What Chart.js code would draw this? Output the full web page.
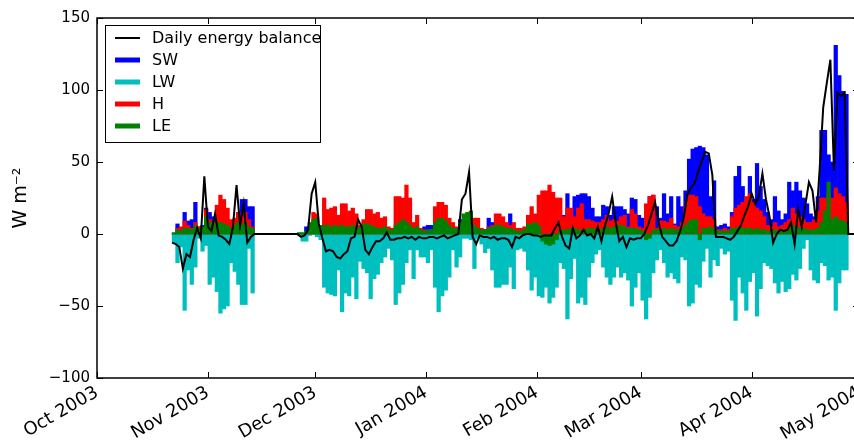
<!DOCTYPE html>
<html>
<head>
<meta charset="utf-8">
<script src="https://cdn.jsdelivr.net/npm/chart.js@4.4.1/dist/chart.umd.min.js"></script>
<style>
  html, body { margin: 0; padding: 0; background: #fff; overflow: hidden; }
  canvas { display: block; }
</style>
</head>
<body>
<canvas id="balanceChart" width="862" height="448"></canvas>
<script>
// x is counted in days from 1 Oct 2003; the series start on 22 Oct 2003 (day 21)
const firstDay = 21;
const monthStarts = [0, 31, 61, 92, 123, 152, 183, 213];
const monthLabels = ['Oct 2003', 'Nov 2003', 'Dec 2003', 'Jan 2004', 'Feb 2004', 'Mar 2004', 'Apr 2004', 'May 2004'];
const yTicks = [-100, -50, 0, 50, 100, 150];
const seriesNames = ['Daily energy balance', 'SW', 'LW', 'H', 'LE'];

const gap = n => Array(n).fill(null);

// daily means, W m-2 (null = no station data)
const sw = [
  0, 7, 4, 15, 9, 10, 22, 5, 6, 18,
  15, 12, 10, 10, 8, 6, 5, 10, 15, 24,
  24, 19, 19,
  ...gap(12),
  0, 0, 5, 3, 4,
  4, 0, 0, 0, 0, 0, 0, 0, 0, 0,
  0, 0, 0, 0, 0, 0, 0, 0, 0, 0,
  0, 0, 0, 0, 0, 0, 0, 0, 2, 3,
  5, 6, 6, 3, 2, 2, 2, 3, 2, 4,
  10, 8, 6, 5, 3, 2, 2, 3, 11, 8,
  4, 3, 2, 3, 14, 4, 3, 3, 3, 3,
  3, 3, 3, 3, 3, 3, 3, 3, 3, 13,
  28, 12, 26, 27, 28, 28, 26, 18, 12, 12,
  20, 19, 13, 19, 19, 19, 17, 14, 25, 24,
  13, 11, 20, 26, 27, 19, 11, 28, 14, 26,
  7, 26, 19, 30, 52, 59, 60, 61, 60, 55,
  26, 37, 5, 6, 7, 5, 15, 40, 47, 33,
  19, 40, 24, 49, 33, 24, 15, 10, 26, 16,
  10, 14, 36, 30, 36, 30, 25, 21, 14, 12,
  26, 72, 72, 55, 50, 131, 110, 99, 97,
  ...gap(3)
];

const lw = [
  -6, -20, -9, -53, -25, -35, -23, -3, -12, -8,
  -35, -30, -40, -55, -52, -50, -20, -26, -35, -49,
  -49, -10, -41,
  ...gap(12),
  -1, -5, -5, -1, 0,
  -2, -4, -37, -41, -42, -43, -25, -54, -41, -43,
  -30, -45, -19, -24, -27, -45, -31, -28, -20, -16,
  -10, -18, -49, -41, -35, -20, -11, -31, -11, -16,
  -16, -20, -11, -37, -54, -43, -39, -30, -11, -23,
  -16, -3, -3, -4, -24, -3, -7, -13, -10, -25,
  -37, -37, -35, -35, -23, -38, -11, -10, -12, -25,
  -39, -30, -43, -44, -37, -48, -44, -37, -20, -24,
  -59, -31, -17, -48, -44, -49, -30, -20, -14, -11,
  -23, -30, -35, -30, -23, -30, -27, -32, -50, -37,
  -27, -46, -59, -44, -27, -18, -11, -20, -30, -27,
  -31, -34, -16, -18, -50, -48, -35, -37, -19, -10,
  -30, -18, -22, -10, -14, -12, -46, -60, -30, -41,
  -53, -33, -27, -57, -38, -20, -22, -24, -34, -41,
  -33, -40, -38, -28, -32, -24, -10, -4, -25, -32,
  -34, -20, -22, -32, -30, -53, -34, -25, -25,
  ...gap(3)
];

const sensible = [
  0, 4, 5, 9, 6, 4, 8, 5, 4, 17,
  10, 8, 20, 27, 24, 18, 10, 11, 15, 12,
  15, 10, 5,
  ...gap(12),
  0, 0, 1, 4, 15,
  14, 6, 25, 17, 18, 19, 13, 21, 21, 16,
  18, 14, 6, 10, 17, 17, 14, 15, 11, 12,
  5, 4, 26, 26, 25, 34, 25, 8, 13, 4,
  3, 2, 3, 19, 22, 22, 20, 11, 8, 5,
  8, 10, 12, 10, 11, 11, 4, 3, 5, 6,
  14, 14, 12, 8, 6, 8, 4, 4, 5, 13,
  19, 14, 27, 30, 30, 34, 29, 25, 25, 12,
  18, 18, 12, 18, 21, 10, 10, 9, 8, 8,
  10, 13, 9, 10, 9, 12, 13, 5, 17, 14,
  5, 4, 21, 26, 27, 4, 9, 9, 8, 11,
  6, 5, 8, 19, 27, 27, 26, 19, 14, 12,
  12, 10, 3, 3, 4, 3, 12, 18, 20, 22,
  26, 28, 22, 18, 16, 12, 6, 5, 8, 5,
  6, 8, 10, 18, 14, 12, 10, 8, 8, 10,
  16, 25, 25, 28, 25, 32, 28, 26, 22,
  ...gap(3)
];

const latent = [
  1, 3, 2, 4, 4, 3, 6, 4, 5, 12,
  8, 7, 8, 8, 7, 6, 4, 6, 8, 7,
  8, 5, 4,
  ...gap(12),
  1, 1, 2, 8, 10,
  11, 6, 6, 6, 5, 6, 5, 6, 5, 5,
  6, 4, 5, 7, 7, 6, 5, 4, 4, 5,
  3, 3, 6, 8, 10, 8, 6, 4, 5, 3,
  2, 3, 3, 8, 11, 11, 9, 6, 4, 4,
  8, 14, 15, 16, 6, 4, 3, 3, 4, 5,
  6, 6, 5, 4, 4, 3, 2, 2, 3, 7,
  7, 8, 6, -5, -7, -8, -7, -4, 2, 3,
  3, 4, 4, 3, 3, 3, 4, 4, 3, 3,
  4, 5, 4, 5, 6, 6, 5, 4, 4, 4,
  3, 2, -4, -3, 3, 3, 3, 4, 3, 4,
  3, 3, 4, 6, 9, 10, 10, -4, 4, 4,
  5, 4, 2, 2, 2, 2, 4, 4, 5, 4,
  4, 4, 3, 4, 3, 3, 2, 2, 3, 2,
  3, 3, 4, 6, 5, 4, 4, 3, 3, 3,
  4, 8, 16, 36, 10, 12, 10, 9, 8,
  ...gap(3)
];

const balance = [
  -6, -7, -9, -24, -14, -16, -4, 4, -3, 40,
  5, 2, 14, -1, -2, -4, -7, 5, 34, 6,
  21, -6, -2,
  0, 0, 0, 0, 0, 0, 0, 0, 0, 0, 0, 0,
  0, -2, -1, 3, 28,
  36, 7, -3, -12, -11, -12, -16, -17, -14, -12,
  -3, -2, 10, 5, -11, -14, -9, -5, -5, -3,
  1, -4, -4, -3, -3, -2, -3, -2, -4, -2,
  -3, -3, -2, -2, -3, -2, -1, -3, -2, -1,
  0, 24, 28, 43, -2, -7, -1, -2, -2, -3,
  -2, -4, -3, -3, -4, -9, -2, -3, -1, 0,
  0, -1, -1, -2, -1, -1, -1, 4, 8, -2,
  -8, -10, 4, -3, -1, 3, -1, 0, -3, 5,
  -5, 6, 14, 26, 8, -5, -2, -9, -3, -4,
  -3, -3, 0, 6, 14, 22, 8, -2, -5, -8,
  -8, -5, 2, 11, 27, 32, 35, 43, 50, 57,
  56, 41, -2, -2, -2, -3, -4, -2, 2, 6,
  13, 19, 28, 21, 26, 42, 24, 12, -6, 0,
  3, 2, 3, 8, -7, 17, 5, 20, 36, 30,
  8, 45, 88, 105, 121, 44, 98, 96, 98,
  0, 0, 0
];

const FONT = "'DejaVu Sans', sans-serif";

// bars cover their whole day, the balance line is plotted at the start of each day
const dayBars = vals => vals.map((v, i) => ({ x: firstDay + i + 0.5, y: v }));
const dayLine = vals => vals.map((v, i) => ({ x: firstDay + i, y: v }));

const barStyle = { type: 'bar', grouped: false, barPercentage: 1, categoryPercentage: 1, borderWidth: 0 };

// frame with inward ticks and a boxed legend in the upper left corner
const axesFrame = {
  id: 'axesFrame',
  afterDatasetsDraw(chart) {
    const { ctx, chartArea: a, scales: { x, y } } = chart;
    ctx.save();
    ctx.strokeStyle = '#000';
    ctx.lineWidth = 1;
    ctx.beginPath();
    monthStarts.forEach(v => {
      const px = Math.round(x.getPixelForValue(v)) + 0.5;
      ctx.moveTo(px, a.bottom); ctx.lineTo(px, a.bottom - 6);
      ctx.moveTo(px, a.top); ctx.lineTo(px, a.top + 6);
    });
    yTicks.forEach(v => {
      const py = Math.round(y.getPixelForValue(v)) + 0.5;
      ctx.moveTo(a.left, py); ctx.lineTo(a.left + 6, py);
      ctx.moveTo(a.right, py); ctx.lineTo(a.right - 6, py);
    });
    ctx.stroke();
    ctx.lineWidth = 1.5;
    ctx.strokeRect(a.left, a.top, a.right - a.left, a.bottom - a.top);

    const bx = a.left + 8, by = a.top + 7, bw = 215, bh = 117;
    ctx.fillStyle = '#fff';
    ctx.fillRect(bx, by, bw, bh);
    ctx.lineWidth = 1;
    ctx.strokeRect(bx + 0.5, by + 0.5, bw, bh);
    ctx.font = '16px ' + FONT;
    ctx.textBaseline = 'middle';
    chart.data.datasets.forEach((ds, i) => {
      const ly = by + 13 + i * 22;
      ctx.strokeStyle = ds.type === 'line' ? ds.borderColor : ds.backgroundColor;
      ctx.lineWidth = ds.type === 'line' ? 2 : 5;
      ctx.beginPath();
      ctx.moveTo(bx + 10, ly);
      ctx.lineTo(bx + 35, ly);
      ctx.stroke();
      ctx.fillStyle = '#000';
      ctx.fillText(ds.label, bx + 47, ly + 1);
    });
    ctx.restore();
  }
};

new Chart(document.getElementById('balanceChart'), {
  data: {
    datasets: [
      { type: 'line', label: seriesNames[0], data: dayLine(balance), borderColor: '#000', borderWidth: 2,
        pointRadius: 0, tension: 0, order: 0 },
      { ...barStyle, label: seriesNames[1], data: dayBars(sw), backgroundColor: '#0000ff', order: 4 },
      { ...barStyle, label: seriesNames[2], data: dayBars(lw), backgroundColor: '#00bfbf', order: 3 },
      { ...barStyle, label: seriesNames[3], data: dayBars(sensible), backgroundColor: '#ff0000', order: 2 },
      { ...barStyle, label: seriesNames[4], data: dayBars(latent), backgroundColor: '#008000', order: 1 }
    ]
  },
  options: {
    responsive: false,
    animation: false,
    events: [],
    layout: { padding: { top: 18, right: 3, bottom: 0, left: 0 } },
    plugins: { legend: { display: false }, tooltip: { enabled: false } },
    scales: {
      x: {
        type: 'linear',
        offset: false,
        min: 0,
        max: 213,
        afterBuildTicks: s => { s.ticks = monthStarts.map(v => ({ value: v })); },
        afterFit: s => { s.height = 70; s.paddingLeft = 0; s.paddingRight = 0; },
        grid: { display: false, drawTicks: false },
        border: { display: false },
        ticks: {
          autoSkip: false,
          minRotation: 30,
          maxRotation: 30,
          padding: 4,
          color: '#000',
          font: { family: FONT, size: 18 },
          callback: v => monthLabels[monthStarts.indexOf(v)]
        }
      },
      y: {
        min: -100,
        max: 150,
        afterBuildTicks: s => { s.ticks = yTicks.map(v => ({ value: v })); },
        afterFit: s => { s.width = 97; s.paddingTop = 0; s.paddingBottom = 0; },
        grid: { display: false, drawTicks: false },
        border: { display: false },
        ticks: {
          padding: 7,
          color: '#000',
          font: { family: FONT, size: 15 },
          callback: v => String(v).replace('-', '\u2212')
        },
        title: {
          display: true,
          text: 'W m\u207B\u00B2',
          color: '#000',
          font: { family: FONT, size: 19 },
          padding: { top: 10, bottom: 0 }
        }
      }
    }
  },
  plugins: [axesFrame]
});
</script>
</body>
</html>
